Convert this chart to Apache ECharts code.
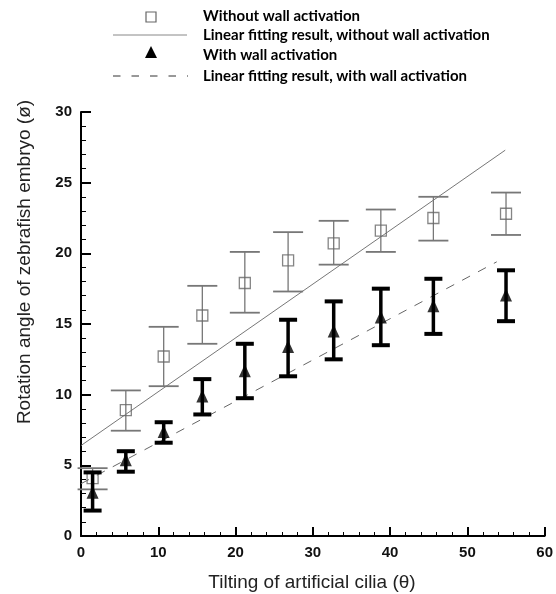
<!DOCTYPE html>
<html>
<head>
<meta charset="utf-8">
<script src="https://cdn.jsdelivr.net/npm/echarts@6/dist/echarts.min.js"></script>
<style>
html,body{margin:0;padding:0;background:#fff;}
#chart{width:556px;height:594px;}
</style>
</head>
<body>
<div id="chart"></div>
<script>
// ---- data ----
const tilt = [1.5, 5.8, 10.7, 15.7, 21.2, 26.8, 32.7, 38.8, 45.6, 55.0];
const withoutMean = [4.1, 8.9, 12.7, 15.6, 17.9, 19.5, 20.7, 21.6, 22.5, 22.8];
const withoutLow  = [3.3, 7.45, 10.6, 13.6, 15.8, 17.3, 19.2, 20.1, 20.9, 21.3];
const withoutHigh = [4.8, 10.3, 14.8, 17.7, 20.1, 21.5, 22.3, 23.1, 24.0, 24.3];
const withMean = [3.1, 5.4, 7.4, 9.9, 11.7, 13.4, 14.5, 15.5, 16.3, 17.05];
const withLow  = [1.8, 4.55, 6.6, 8.6, 9.75, 11.3, 12.5, 13.5, 14.3, 15.2];
const withHigh = [4.5, 6.0, 8.05, 11.1, 13.6, 15.3, 16.6, 17.5, 18.2, 18.8];
const fitWithoutX = [0, 54.9];
const fitWithoutY = [6.4, 27.3];
const fitWithX = [0, 53.8];
const fitWithY = [3.7, 19.4];
const xTicks = [0, 10, 20, 30, 40, 50, 60];
const yTicks = [0, 5, 10, 15, 20, 25, 30];
const legendLabels = [
  'Without wall activation',
  'Linear fitting result, without wall activation',
  'With wall activation',
  'Linear fitting result, with wall activation'
];
const xTitle = 'Tilting of artificial cilia (\u03b8)';
const yTitle = 'Rotation angle of zebrafish embryo (\u00f8)';

// ---- build ----
const zip2 = (a, b) => a.map((v, i) => [v, b[i]]);
const zip3 = (a, b, c) => a.map((v, i) => [v, b[i], c[i]]);

function errRenderer(capHalf, lw, capLw, color) {
  return function (params, api) {
    const x = api.value(0), lo = api.value(1), hi = api.value(2);
    const a = api.coord([x, lo]), b = api.coord([x, hi]);
    const st = {stroke: color, lineWidth: lw};
    const cs = {stroke: color, lineWidth: capLw};
    return {type: 'group', children: [
      {type: 'line', shape: {x1: a[0], y1: a[1], x2: b[0], y2: b[1]}, style: st},
      {type: 'line', shape: {x1: a[0] - capHalf, y1: a[1], x2: a[0] + capHalf, y2: a[1]}, style: cs},
      {type: 'line', shape: {x1: b[0] - capHalf, y1: b[1], x2: b[0] + capHalf, y2: b[1]}, style: cs}
    ]};
  };
}

const axisFont = {fontFamily: 'Liberation Sans', fontWeight: 'bold', fontSize: 15, color: '#111'};
const legendFont = 'bold 15px Lato';

const option = {
  animation: false,
  backgroundColor: '#fff',
  grid: {left: 81, right: 10, top: 112, bottom: 58},
  xAxis: {
    type: 'value', min: xTicks[0], max: xTicks[xTicks.length - 1], interval: 10,
    axisLine: {show: true, onZero: false, lineStyle: {color: '#000', width: 2}},
    axisTick: {show: true, inside: true, length: 9, lineStyle: {color: '#000', width: 2}},
    minorTick: {show: true, splitNumber: 5, length: 4, lineStyle: {color: '#000', width: 1}},
    splitLine: {show: false},
    axisLabel: Object.assign({margin: 9}, axisFont)
  },
  yAxis: {
    type: 'value', min: yTicks[0], max: yTicks[yTicks.length - 1], interval: 5,
    axisLine: {show: true, onZero: false, lineStyle: {color: '#000', width: 2}},
    axisTick: {show: true, inside: true, length: 10, lineStyle: {color: '#000', width: 2}},
    minorTick: {show: true, splitNumber: 5, length: 5, lineStyle: {color: '#000', width: 1}},
    splitLine: {show: false},
    axisLabel: Object.assign({margin: 9}, axisFont)
  },
  series: [
    {
      type: 'line', data: zip2(fitWithoutX, fitWithoutY), symbol: 'none',
      lineStyle: {color: '#777', width: 1}, z: 2
    },
    {
      type: 'line', data: zip2(fitWithX, fitWithY), symbol: 'none',
      lineStyle: {color: '#666', width: 1, type: [9, 9]}, z: 2
    },
    {
      type: 'custom', data: zip3(tilt, withoutLow, withoutHigh),
      encode: {x: 0, y: [1, 2]},
      renderItem: errRenderer(15, 1.3, 1.8, '#777'), z: 3
    },
    {
      type: 'scatter', data: zip2(tilt, withoutMean), symbol: 'rect', symbolSize: 11,
      itemStyle: {color: 'rgba(255,255,255,0)', borderColor: '#666', borderWidth: 1.3}, z: 4
    },
    {
      type: 'custom', data: zip3(tilt, withLow, withHigh),
      encode: {x: 0, y: [1, 2]},
      renderItem: errRenderer(9, 3.5, 4, '#000'), z: 5
    },
    {
      type: 'scatter', data: zip2(tilt, withMean), symbol: 'triangle', symbolSize: [12, 13],
      itemStyle: {color: '#000'}, z: 6
    }
  ],
  graphic: [
    // legend
    {type: 'rect', shape: {x: 146, y: 12, width: 10, height: 10}, style: {fill: 'none', stroke: '#666', lineWidth: 1.2}},
    {type: 'line', shape: {x1: 113, y1: 35, x2: 187, y2: 35}, style: {stroke: '#888', lineWidth: 1}},
    {type: 'polygon', shape: {points: [[151, 46], [157, 58], [145, 58]]}, style: {fill: '#000'}},
    {type: 'line', shape: {x1: 113, y1: 76, x2: 188, y2: 76}, style: {stroke: '#333', lineWidth: 1, lineDash: [7.5, 11]}},
    {type: 'text', x: 203, y: 16, style: {text: legendLabels[0], font: legendFont, fill: '#000', textVerticalAlign: 'middle'}},
    {type: 'text', x: 203, y: 35, style: {text: legendLabels[1], font: legendFont, fill: '#000', textVerticalAlign: 'middle'}},
    {type: 'text', x: 203, y: 55, style: {text: legendLabels[2], font: legendFont, fill: '#000', textVerticalAlign: 'middle'}},
    {type: 'text', x: 203, y: 76, style: {text: legendLabels[3], font: legendFont, fill: '#000', textVerticalAlign: 'middle'}},
    // axis titles
    {type: 'text', x: 312, y: 583, style: {text: xTitle, font: '19px "Liberation Sans"', fill: '#222', textAlign: 'center', textVerticalAlign: 'middle'}},
    {type: 'text', x: 25, y: 262, rotation: Math.PI / 2, style: {text: yTitle, font: '19px "Liberation Sans"', fill: '#222', textAlign: 'center', textVerticalAlign: 'middle'}}
  ]
};

const chart = echarts.init(document.getElementById('chart'), null, {renderer: 'canvas'});
chart.setOption(option);
</script>
</body>
</html>
